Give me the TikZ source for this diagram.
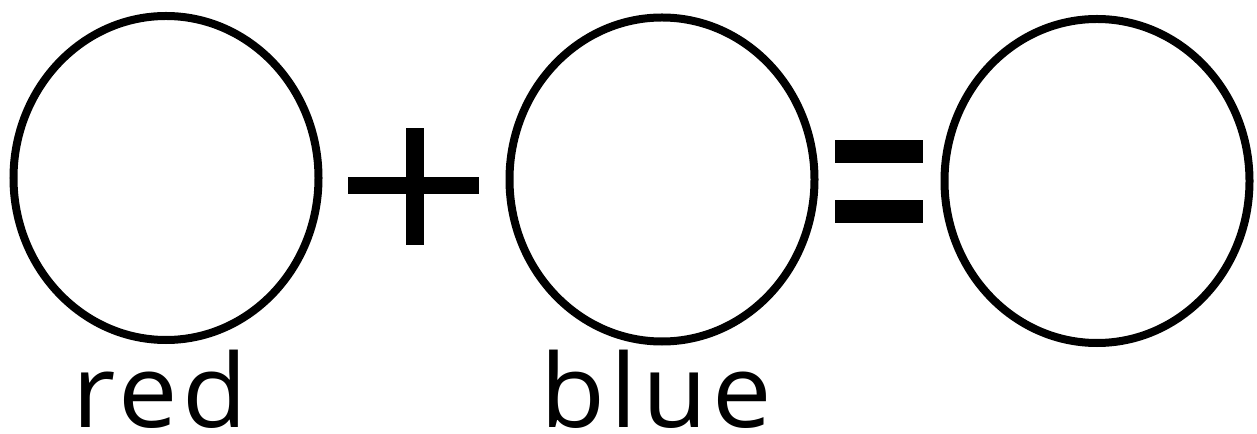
\documentclass[tikz,border=0pt]{standalone}
\usepackage{fontspec}
\newfontfamily\lab[LetterSpace=5,FakeStretch=1.04]{Open Sans}
\usetikzlibrary{shapes.geometric}
\tikzset{
  ring/.style={draw=black, line width=1.6mm, ellipse, inner sep=0pt,
    minimum width=61mm, minimum height=64.8mm},
  bar/.style={fill=black, draw=none},
  word/.style={anchor=base, inner sep=0pt, text depth=0pt, font=\lab\fontsize{58}{62}\selectfont}
}
\begin{document}
\begin{tikzpicture}[x=0.2mm, y=-0.2mm]
\useasboundingbox[fill=white] (0,0) rectangle (1257,434);
\node[ring] (red) at (166,178) {};
\node[ring] (blue) at (662,179.5) {};
\node[ring] (mix) at (1097,181) {};
% plus
\fill[bar] (348,177) rectangle (479,194);
\fill[bar] (406,128) rectangle (424,245);
% equals
\fill[bar] (835,140) rectangle (923,163);
\fill[bar] (835,200) rectangle (923,223);
% labels
\node[word] (redlabel) at (160,428) {red};
\node[word] (bluelabel) at (656,428) {blue};
\end{tikzpicture}
\end{document}
